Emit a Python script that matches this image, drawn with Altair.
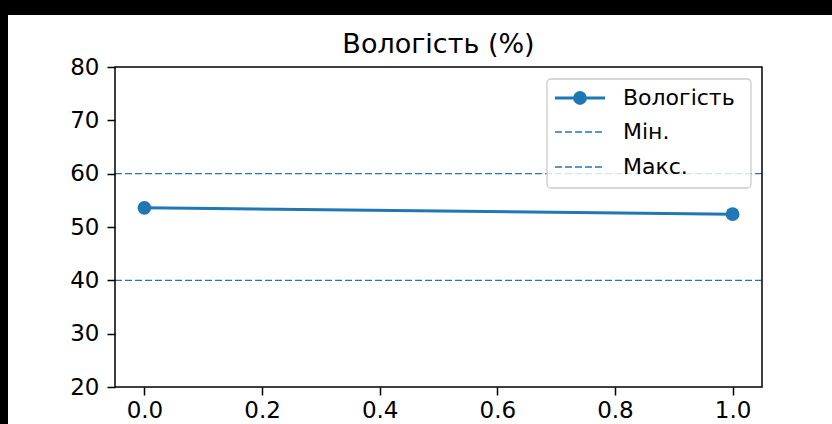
import altair as alt
import pandas as pd

# ---- data ----
x_vals = [0, 1]
humidity = [53.6, 52.4]
min_level = [40]
max_level = [60]
x_ticks = [0.0, 0.2, 0.4, 0.6, 0.8, 1.0]
y_ticks = [20, 30, 40, 50, 60, 70, 80]
title_text = "Вологість (%)"
legend_labels = ["Вологість", "Мін.", "Макс."]

# ---- style ----
W, H = 647, 320
PAD = {"left": 115, "top": 67, "right": 70, "bottom": 37}
BLUE = "#1f77b4"
FONT = "DejaVu Sans"
FS = 23
one = alt.Data(values=[{"k": 0}])

df = pd.DataFrame({"x": x_vals, "y": humidity})
lv = pd.DataFrame({"v": min_level + max_level})
xscale = alt.Scale(domain=[-0.05, 1.05], nice=False, zero=False)
yscale = alt.Scale(domain=[20, 80], nice=False, zero=False)

bg = alt.Chart(one).mark_rect(color="white").encode(
    x=alt.value(8 - PAD["left"]), x2=alt.value(W + PAD["right"]),
    y=alt.value(15 - PAD["top"]), y2=alt.value(H + PAD["bottom"]))

title = alt.Chart(one).mark_text(text=title_text, font=FONT, fontSize=27, color="black",
                                 align="center", baseline="alphabetic").encode(
    x=alt.value(W / 2), y=alt.value(-14))

line = alt.Chart(df).mark_line(color=BLUE, strokeWidth=3).encode(
    x=alt.X("x:Q", scale=xscale,
            axis=alt.Axis(values=x_ticks, format=".1f", title=None, zindex=1,
                          labelPadding=4)),
    y=alt.Y("y:Q", scale=yscale,
            axis=alt.Axis(values=y_ticks, title=None, zindex=1, labelPadding=8)))
points = alt.Chart(df).mark_point(filled=True, size=190, color=BLUE, opacity=1).encode(
    x=alt.X("x:Q", scale=xscale), y=alt.Y("y:Q", scale=yscale))

hlines = alt.Chart(lv).mark_rule(color=BLUE, strokeWidth=1.4, strokeDash=[7, 3]).encode(
    y=alt.Y("v:Q", scale=yscale))

# legend (upper right)
lx0, lx1, ly0, ly1 = 432, 636, 12, 121
rows = [31, 65, 100]
hx0, hx1, tx = 440, 490, 508
leg_box = alt.Chart(one).mark_rect(fill="white", fillOpacity=0.8, stroke="#cccccc",
                                   strokeWidth=1.3, cornerRadius=4).encode(
    x=alt.value(lx0), x2=alt.value(lx1), y=alt.value(ly0), y2=alt.value(ly1))
leg_line = alt.Chart(one).mark_rule(color=BLUE, strokeWidth=3).encode(
    x=alt.value(hx0), x2=alt.value(hx1), y=alt.value(rows[0]))
leg_pt = alt.Chart(one).mark_point(filled=True, size=190, color=BLUE, opacity=1).encode(
    x=alt.value((hx0 + hx1) / 2), y=alt.value(rows[0]))
leg_d1 = alt.Chart(one).mark_rule(color=BLUE, strokeWidth=1.4, strokeDash=[7, 3]).encode(
    x=alt.value(hx0), x2=alt.value(hx1), y=alt.value(rows[1]))
leg_d2 = alt.Chart(one).mark_rule(color=BLUE, strokeWidth=1.4, strokeDash=[7, 3]).encode(
    x=alt.value(hx0), x2=alt.value(hx1), y=alt.value(rows[2]))
leg_texts = [
    alt.Chart(one).mark_text(text=lab, font=FONT, fontSize=22, color="black",
                             align="left", baseline="middle").encode(
        x=alt.value(tx), y=alt.value(r))
    for lab, r in zip(legend_labels, rows)
]

frame = alt.Chart(one).mark_rect(fillOpacity=0, stroke="black", strokeWidth=1.5).encode(
    x=alt.value(0), x2=alt.value("width"), y=alt.value(0), y2=alt.value("height"))

chart = alt.layer(
    bg, title, hlines, line, points, leg_box, leg_line, leg_pt, leg_d1, leg_d2,
    *leg_texts, frame
).properties(
    width=W, height=H, padding=PAD, autosize="none", background="black",
).configure_axis(
    labelFont=FONT, labelFontSize=FS, labelColor="black", tickColor="black",
    tickSize=8, tickWidth=1.5, domain=False, grid=False,
).configure_view(stroke=None)

chart.save("out.html", embed_options={"renderer": "svg", "actions": False})
